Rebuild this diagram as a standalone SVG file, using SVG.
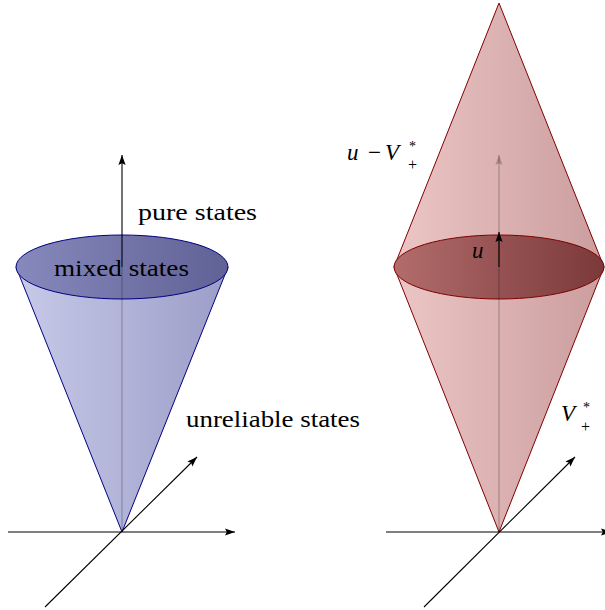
<svg xmlns="http://www.w3.org/2000/svg" width="605" height="610" viewBox="0 0 605 610">
  <style>
    .axis { stroke: #000; stroke-width: 1.1; fill: none; }
    .faint { stroke: #000; stroke-opacity: 0.22; stroke-width: 1.3; fill: none; }
    .lbl { font-family: "Liberation Serif", "Times New Roman", serif; fill: #000; }
  </style>
  <defs>
    <marker id="arr" markerUnits="userSpaceOnUse" markerWidth="11" markerHeight="8" refX="10" refY="4" orient="auto">
      <path d="M0,0.4 L10,4 L0,7.6 L1.8,4 Z" fill="#000"/>
    </marker>
    <marker id="arrFaint" markerUnits="userSpaceOnUse" markerWidth="11" markerHeight="8" refX="10" refY="4" orient="auto">
      <path d="M0,0.4 L10,4 L0,7.6 L1.8,4 Z" fill="#000" fill-opacity="0.22"/>
    </marker>
    <linearGradient id="blueBody" x1="0" y1="0" x2="1" y2="0">
      <stop offset="0" stop-color="#c8cae9"/>
      <stop offset="1" stop-color="#9b9dc8"/>
    </linearGradient>
    <linearGradient id="blueTop" x1="0" y1="0" x2="1" y2="0">
      <stop offset="0" stop-color="#8789bd"/>
      <stop offset="1" stop-color="#606296"/>
    </linearGradient>
    <linearGradient id="redBody" x1="0" y1="0" x2="1" y2="0">
      <stop offset="0" stop-color="#ecc6c6"/>
      <stop offset="1" stop-color="#cb9d9e"/>
    </linearGradient>
    <linearGradient id="redTop" x1="0" y1="0" x2="1" y2="0">
      <stop offset="0" stop-color="#b26c6c"/>
      <stop offset="1" stop-color="#7b393a"/>
    </linearGradient>
  </defs>

  <g id="left-cone">
    <path d="M16,267 L122,532 L228,267 Z" fill="url(#blueBody)" stroke="#000080" stroke-width="1" stroke-linejoin="round"/>
    <ellipse cx="122" cy="267" rx="106" ry="32" fill="url(#blueTop)" stroke="#000080" stroke-width="1"/>
  </g>

  <g id="right-cone">
    <path d="M394,267 L499,3 L604,267 L499,532 Z" fill="url(#redBody)" stroke="#800000" stroke-width="1" stroke-linejoin="round"/>
    <ellipse cx="499" cy="267" rx="105" ry="32" fill="url(#redTop)" stroke="#800000" stroke-width="1"/>
  </g>

  <g id="connectors">
    <line class="faint" x1="122" y1="532" x2="122" y2="267"/>
    <line class="axis" x1="122" y1="267" x2="122" y2="155" stroke-width="1.3" marker-end="url(#arr)"/>
    <line class="axis" x1="8" y1="532" x2="235" y2="532" marker-end="url(#arr)"/>
    <line class="axis" x1="45" y1="607" x2="197" y2="457" marker-end="url(#arr)"/>
    <line class="faint" x1="499" y1="532" x2="499" y2="155" marker-end="url(#arrFaint)"/>
    <line class="axis" x1="499" y1="267" x2="499" y2="232" stroke-width="1.8" marker-end="url(#arr)"/>
    <line class="axis" x1="386" y1="532" x2="611" y2="532" marker-end="url(#arr)"/>
    <line class="axis" x1="424" y1="607" x2="575" y2="457" marker-end="url(#arr)"/>
  </g>

  <g id="labels">
    <text class="lbl" x="138" y="220" font-size="24" textLength="119" lengthAdjust="spacingAndGlyphs">pure states</text>
    <text class="lbl" x="54" y="276" font-size="24" textLength="135" lengthAdjust="spacingAndGlyphs">mixed states</text>
    <text class="lbl" x="186" y="427" font-size="24" textLength="174" lengthAdjust="spacingAndGlyphs">unreliable states</text>

    <text class="lbl" font-size="23"><tspan x="347" y="160" font-style="italic">u</tspan><tspan x="368" y="160">−</tspan><tspan x="385" y="160" font-style="italic">V</tspan><tspan x="409" y="151" font-size="14">*</tspan><tspan x="408" y="170" font-size="16">+</tspan></text>

    <text class="lbl" x="472" y="258" font-size="23" font-style="italic">u</text>

    <text class="lbl" font-size="23"><tspan x="561" y="421" font-style="italic">V</tspan><tspan x="583" y="412" font-size="14">*</tspan><tspan x="581" y="432" font-size="16">+</tspan></text>
  </g>
</svg>
